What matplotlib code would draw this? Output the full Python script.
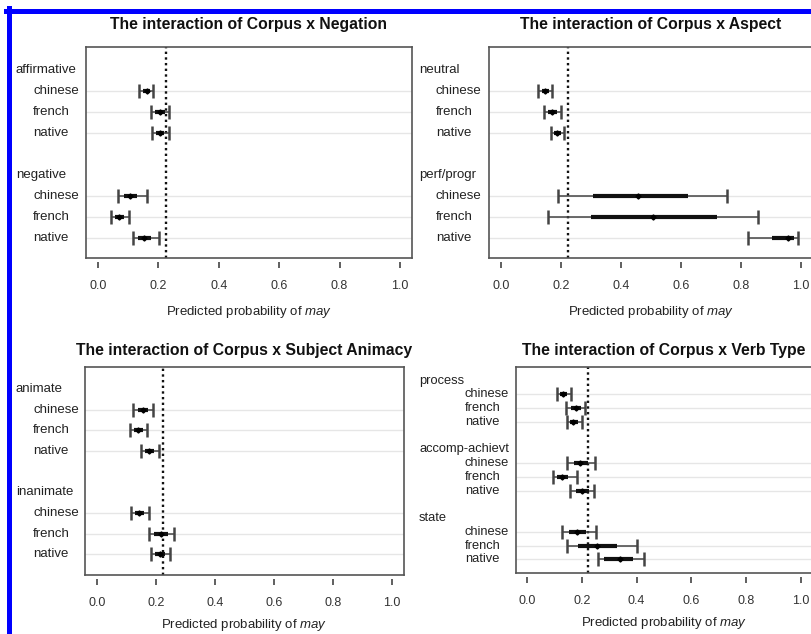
import matplotlib

matplotlib.use("Agg")
import matplotlib.pyplot as plt
import matplotlib.transforms as mtransforms
from matplotlib.lines import Line2D

plt.rcParams["font.family"] = ["Liberation Sans", "DejaVu Sans"]
plt.rcParams["mathtext.fontset"] = "custom"
plt.rcParams["mathtext.rm"] = "Liberation Sans"
plt.rcParams["mathtext.it"] = "Liberation Sans:italic"

# Данные: предсказанные вероятности и интервалы
corpora = ["chinese", "french", "native"]
ref_line = 0.224
xticks = [0.0, 0.2, 0.4, 0.6, 0.8, 1.0]
xtick_labels = ["0.0", "0.2", "0.4", "0.6", "0.8", "1.0"]

neg_title = "The interaction of Corpus x Negation"
neg_groups = ["affirmative", "negative"]
neg_mean = [0.161, 0.205, 0.205, 0.106, 0.068, 0.153]
neg_lo = [0.137, 0.175, 0.180, 0.067, 0.043, 0.115]
neg_hi = [0.183, 0.236, 0.234, 0.163, 0.104, 0.202]
neg_lo50 = [0.148, 0.188, 0.192, 0.085, 0.055, 0.133]
neg_hi50 = [0.172, 0.222, 0.220, 0.130, 0.085, 0.175]

asp_title = "The interaction of Corpus x Aspect"
asp_groups = ["neutral", "perf/progr"]
asp_mean = [0.148, 0.170, 0.188, 0.458, 0.508, 0.955]
asp_lo = [0.124, 0.144, 0.166, 0.189, 0.156, 0.824]
asp_hi = [0.170, 0.200, 0.210, 0.754, 0.856, 0.991]
asp_lo50 = [0.136, 0.157, 0.177, 0.306, 0.299, 0.902]
asp_hi50 = [0.160, 0.185, 0.200, 0.622, 0.721, 0.975]

ani_title = "The interaction of Corpus x Subject Animacy"
ani_groups = ["animate", "inanimate"]
ani_mean = [0.155, 0.140, 0.177, 0.143, 0.216, 0.214]
ani_lo = [0.123, 0.112, 0.151, 0.115, 0.176, 0.182]
ani_hi = [0.191, 0.171, 0.210, 0.176, 0.262, 0.248]
ani_lo50 = [0.140, 0.126, 0.164, 0.129, 0.195, 0.198]
ani_hi50 = [0.173, 0.156, 0.194, 0.160, 0.240, 0.232]

vt_title = "The interaction of Corpus x Verb Type"
vt_groups = ["process", "accomp-achievt", "state"]
vt_mean = [0.133, 0.178, 0.169, 0.193, 0.127, 0.200, 0.181, 0.254, 0.339]
vt_lo = [0.108, 0.141, 0.145, 0.147, 0.096, 0.157, 0.127, 0.147, 0.258]
vt_hi = [0.159, 0.212, 0.200, 0.248, 0.181, 0.246, 0.251, 0.403, 0.428]
vt_lo50 = [0.120, 0.160, 0.157, 0.170, 0.110, 0.178, 0.153, 0.187, 0.282]
vt_hi50 = [0.147, 0.197, 0.185, 0.222, 0.150, 0.225, 0.215, 0.327, 0.388]

W, H = 811, 634
fig = plt.figure(figsize=(W / 100, H / 100), dpi=100)


def panel(title, groups, mean, lo, hi, lo50, hi50, box, ylim, hx, ix, ty, xly, fs):
    left, top, width, height = box
    ax = fig.add_axes([left / W, 1 - (top + height) / H, width / W, height / H])
    ax.set_xlim(-0.04, 1.04)
    ax.set_ylim(*ylim)

    # позиции строк: заголовок группы, затем три корпуса, пустая строка
    ys, heads = [], []
    pos = 0
    for g in groups:
        heads.append(pos)
        ys += [pos + 1, pos + 2, pos + 3]
        pos += 5

    for y in ys:
        ax.axhline(y, color="#e6e6e6", lw=1, zorder=0)
    ax.axvline(ref_line, color="#111111", ls=(0, (1, 1.4)), lw=1.7, zorder=1)

    xerr = [[m - l for m, l in zip(mean, lo)], [h - m for m, h in zip(mean, hi)]]
    ax.errorbar(mean, ys, xerr=xerr, fmt="none", ecolor="#444444",
                elinewidth=1.1, capsize=5, capthick=1.8, zorder=2)
    ax.hlines(ys, lo50, hi50, color="#111111", lw=3, zorder=3)
    ax.plot(mean, ys, "D", color="#000000", ms=2.6, zorder=4)

    for s in ax.spines.values():
        s.set_color("#555555")
        s.set_linewidth(1.2)
    ax.set_yticks([])
    ax.tick_params(bottom=False, labelbottom=False)

    sec = ax.secondary_xaxis(-4 / height)
    sec.spines["bottom"].set_visible(False)
    sec.set_xticks(xticks)
    sec.set_xticklabels(xtick_labels)
    sec.tick_params(length=4, width=1.2, color="#444444", pad=9,
                    labelsize=9, labelcolor="#333333")

    tr = mtransforms.blended_transform_factory(fig.transFigure, ax.transData)
    for g, y in zip(groups, heads):
        ax.text(hx / W, y, g, transform=tr, ha="left", va="center",
                fontsize=fs, color="#222222")
    for k, y in enumerate(ys):
        ax.text(ix / W, y, corpora[k % 3], transform=tr, ha="left",
                va="center", fontsize=fs, color="#222222")

    cx = (left + width / 2) / W
    fig.text(cx, 1 - ty / H, title, ha="center", va="center",
             fontsize=11.3, fontweight="bold", color="#111111")
    fig.text(cx, 1 - xly / H, r"Predicted probability of $\it{may}$",
             ha="center", va="center", fontsize=9.5, color="#222222")
    return ax


panel(neg_title, neg_groups, neg_mean, neg_lo, neg_hi, neg_lo50, neg_hi50,
      (86, 47, 326, 211), (8.95, -1.1), 16, 33, 25, 312, 9.5)
panel(asp_title, asp_groups, asp_mean, asp_lo, asp_hi, asp_lo50, asp_hi50,
      (489, 47, 324, 211), (8.95, -1.1), 419, 436, 25, 312, 9.5)
panel(ani_title, ani_groups, ani_mean, ani_lo, ani_hi, ani_lo50, ani_hi50,
      (85, 367, 319, 208), (9.0, -1.06), 16, 33, 350, 625, 9.5)
panel(vt_title, vt_groups, vt_mean, vt_lo, vt_hi, vt_lo50, vt_hi50,
      (516, 367, 296, 206), (14.0, -1.0), 419, 465, 350, 623, 9.3)

# синяя рамка сверху и слева
fig.add_artist(Line2D([6 / W, 1], [1 - 10.5 / H] * 2, lw=3.6, color="#0000ff"))
fig.add_artist(Line2D([8.5 / W] * 2, [1 - 8 / H, 0], lw=3.6, color="#0000ff"))

fig.savefig("out.png", dpi=100)
